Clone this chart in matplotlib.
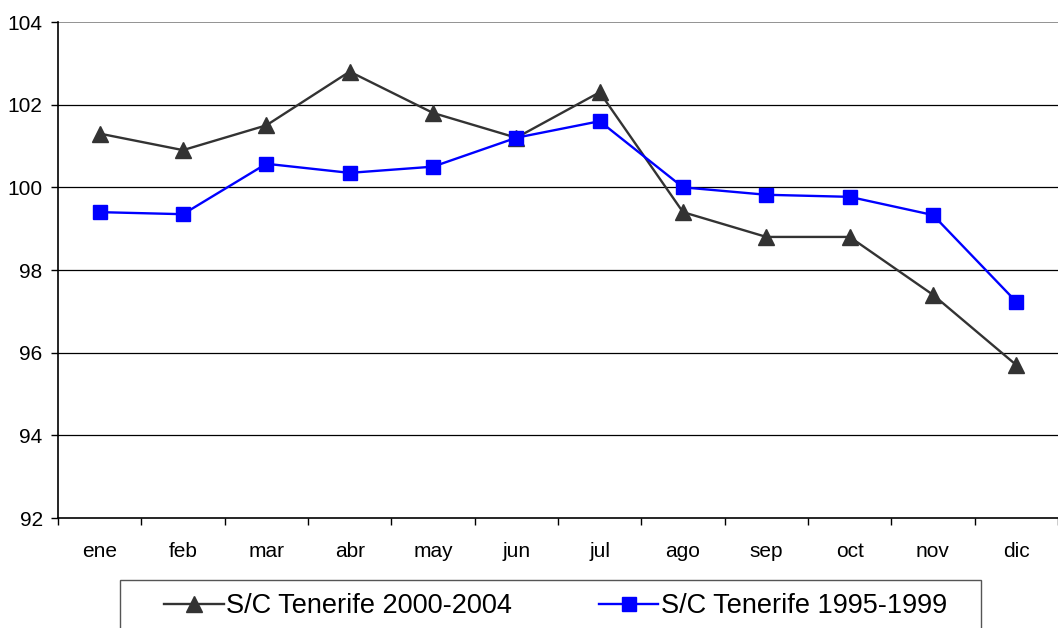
import numpy as np
import matplotlib.pyplot as plt
from matplotlib.patches import Rectangle

plt.rcParams['font.family'] = ['Liberation Sans', 'DejaVu Sans']

months = ['ene', 'feb', 'mar', 'abr', 'may', 'jun', 'jul', 'ago', 'sep', 'oct', 'nov', 'dic']
tf_2000_2004 = [101.3, 100.9, 101.5, 102.8, 101.8, 101.2, 102.3, 99.4, 98.8, 98.8, 97.4, 95.7]
tf_1995_1999 = [99.4, 99.35, 100.57, 100.35, 100.5, 101.2, 101.6, 100.0, 99.82, 99.77, 99.33, 97.23]
y_ticks = [92, 94, 96, 98, 100, 102, 104]

W, H = 1058, 628
fig = plt.figure(figsize=(W / 100, H / 100), dpi=100)
ax = fig.add_axes([58 / W, 110 / H, 1000 / W, 496 / H])

x = np.arange(len(months))

# horizontal gridlines
for yv in y_ticks[1:-1]:
    ax.axhline(yv, color='black', linewidth=0.9, zorder=1)
ax.axhline(104, color='#808080', linewidth=1.2, zorder=1)

ax.plot(x, tf_2000_2004, color='#333333', linewidth=1.7, marker='^',
        markersize=12, label='S/C Tenerife 2000-2004', zorder=3)
ax.plot(x, tf_1995_1999, color='#0000FF', linewidth=1.7, marker='s',
        markersize=10, label='S/C Tenerife 1995-1999', zorder=3)

ax.set_xlim(-0.5, 11.5)
ax.set_ylim(92, 104)
ax.set_yticks(y_ticks)
ax.set_xticks(np.arange(-0.5, 12, 1))
ax.set_xticklabels([])
ax.set_xticks(x, minor=True)
ax.set_xticklabels(months, minor=True)
ax.tick_params(axis='x', which='minor', length=0, pad=17, labelsize=15)
ax.tick_params(axis='x', which='major', length=5, width=1, direction='out')
ax.tick_params(axis='y', length=5, width=1, direction='out', labelsize=15, pad=6)

for side in ['top', 'right']:
    ax.spines[side].set_visible(False)
ax.spines['left'].set_linewidth(1.2)
ax.spines['bottom'].set_linewidth(1.2)

# legend box runs past the bottom edge of the figure
fig.patches.append(Rectangle((120 / W, -12 / H), 861 / W, 60 / H,
                             transform=fig.transFigure, fill=False,
                             edgecolor='#555555', linewidth=1.0))
leg = fig.legend(loc='center left', bbox_to_anchor=(164 / W, 1 - 606 / H),
                 ncol=2, fontsize=19.5, frameon=False, columnspacing=3.2,
                 handlelength=2.2, handletextpad=0.1, borderpad=0, borderaxespad=0)

fig.savefig('out.png', dpi=100)
